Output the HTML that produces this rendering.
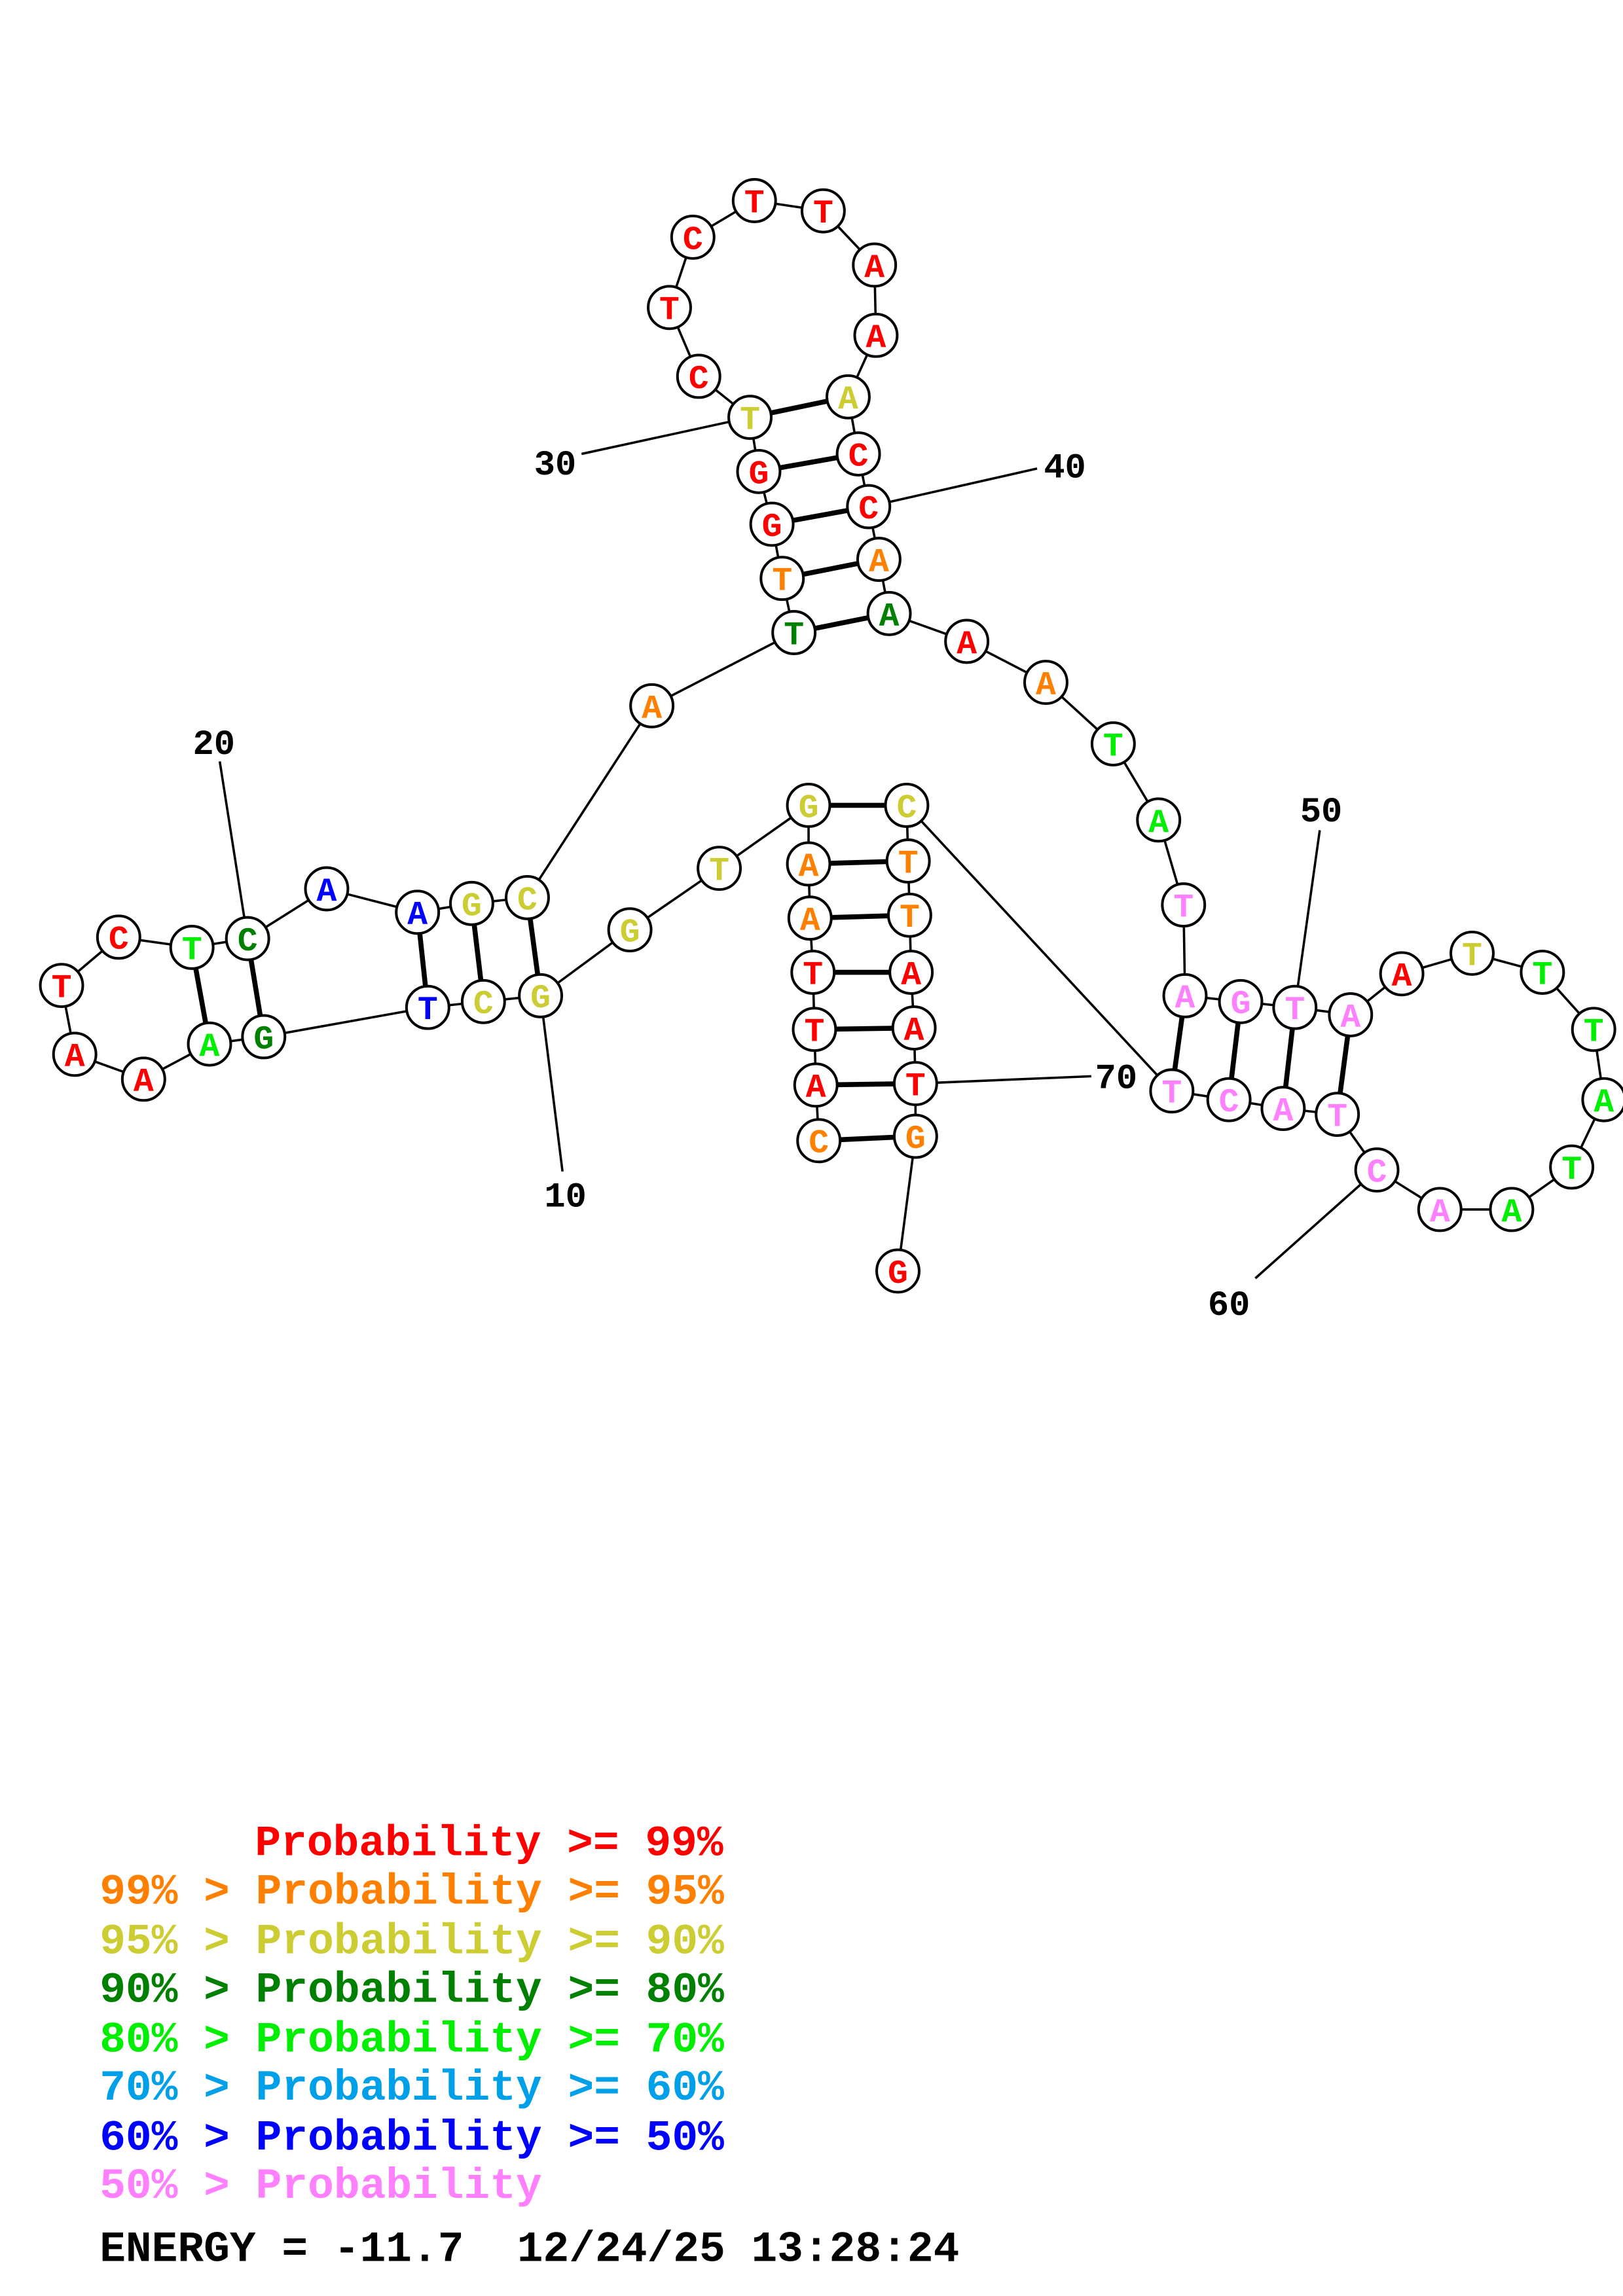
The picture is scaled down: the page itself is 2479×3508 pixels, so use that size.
<!DOCTYPE html>
<html><head><meta charset="utf-8"><style>html,body{margin:0;padding:0;background:#fff}svg{display:block}</style></head><body>
<svg width="2479" height="3508" viewBox="0 0 1108 1568" xmlns="http://www.w3.org/2000/svg">
<rect width="1108" height="1568" fill="#fff"/>
<g stroke="#000" stroke-width="1.6" fill="none">
<polyline points="559,779 557,741 556,703 555,664 553,627 552,590 552,550 491,593 430,635 369,680 330,684 292,688 180,708 143,713 98,737 51,720 42,673 81,640 131,647 169,641 223,607 285,623 322,617 360,613 445,482 542,432 534,395 527,358 518,322 512,285 477,257 457,210 473,162 515,137 562,144 597,181 598,229 579,271 586,310 593,346 600,382 607,419 660,438 714,466 760,508 791,560 808,618 809,680 847,684 884,688 922,693 957,665 1005,651 1053,664 1088,703 1095,751 1073,797 1032,826 983,826 940,799 913,761 876,757 839,751 800,745 619,550 620,588 621,625 622,664 624,702 625,740 625,776 613,868"/>
<line x1="369" y1="680" x2="384" y2="800"/>
<line x1="150" y1="520" x2="169" y2="641"/>
<line x1="397" y1="310" x2="512" y2="285"/>
<line x1="593" y1="346" x2="708" y2="320"/>
<line x1="901" y1="567" x2="884" y2="688"/>
<line x1="940" y1="799" x2="857" y2="873"/>
<line x1="625" y1="740" x2="745" y2="735"/>
</g>
<g stroke="#000" stroke-width="3.4">
<line x1="559" y1="779" x2="625" y2="776"/><line x1="557" y1="741" x2="625" y2="740"/><line x1="556" y1="703" x2="624" y2="702"/><line x1="555" y1="664" x2="622" y2="664"/><line x1="553" y1="627" x2="621" y2="625"/><line x1="552" y1="590" x2="620" y2="588"/><line x1="552" y1="550" x2="619" y2="550"/>
<line x1="369" y1="680" x2="360" y2="613"/><line x1="330" y1="684" x2="322" y2="617"/><line x1="292" y1="688" x2="285" y2="623"/>
<line x1="180" y1="708" x2="169" y2="641"/><line x1="143" y1="713" x2="131" y2="647"/>
<line x1="542" y1="432" x2="607" y2="419"/><line x1="534" y1="395" x2="600" y2="382"/><line x1="527" y1="358" x2="593" y2="346"/><line x1="518" y1="322" x2="586" y2="310"/><line x1="512" y1="285" x2="579" y2="271"/>
<line x1="809" y1="680" x2="800" y2="745"/><line x1="847" y1="684" x2="839" y2="751"/><line x1="884" y1="688" x2="876" y2="757"/><line x1="922" y1="693" x2="913" y2="761"/>
</g>
<g fill="#fff" stroke="#000" stroke-width="1.8">
<circle cx="559" cy="779" r="14.5"/><circle cx="557" cy="741" r="14.5"/><circle cx="556" cy="703" r="14.5"/><circle cx="555" cy="664" r="14.5"/><circle cx="553" cy="627" r="14.5"/><circle cx="552" cy="590" r="14.5"/><circle cx="552" cy="550" r="14.5"/><circle cx="491" cy="593" r="14.5"/><circle cx="430" cy="635" r="14.5"/><circle cx="369" cy="680" r="14.5"/><circle cx="330" cy="684" r="14.5"/><circle cx="292" cy="688" r="14.5"/><circle cx="180" cy="708" r="14.5"/><circle cx="143" cy="713" r="14.5"/><circle cx="98" cy="737" r="14.5"/><circle cx="51" cy="720" r="14.5"/><circle cx="42" cy="673" r="14.5"/><circle cx="81" cy="640" r="14.5"/><circle cx="131" cy="647" r="14.5"/><circle cx="169" cy="641" r="14.5"/><circle cx="223" cy="607" r="14.5"/><circle cx="285" cy="623" r="14.5"/><circle cx="322" cy="617" r="14.5"/><circle cx="360" cy="613" r="14.5"/><circle cx="445" cy="482" r="14.5"/><circle cx="542" cy="432" r="14.5"/><circle cx="534" cy="395" r="14.5"/><circle cx="527" cy="358" r="14.5"/><circle cx="518" cy="322" r="14.5"/><circle cx="512" cy="285" r="14.5"/><circle cx="477" cy="257" r="14.5"/><circle cx="457" cy="210" r="14.5"/><circle cx="473" cy="162" r="14.5"/><circle cx="515" cy="137" r="14.5"/><circle cx="562" cy="144" r="14.5"/><circle cx="597" cy="181" r="14.5"/><circle cx="598" cy="229" r="14.5"/><circle cx="579" cy="271" r="14.5"/><circle cx="586" cy="310" r="14.5"/><circle cx="593" cy="346" r="14.5"/><circle cx="600" cy="382" r="14.5"/><circle cx="607" cy="419" r="14.5"/><circle cx="660" cy="438" r="14.5"/><circle cx="714" cy="466" r="14.5"/><circle cx="760" cy="508" r="14.5"/><circle cx="791" cy="560" r="14.5"/><circle cx="808" cy="618" r="14.5"/><circle cx="809" cy="680" r="14.5"/><circle cx="847" cy="684" r="14.5"/><circle cx="884" cy="688" r="14.5"/><circle cx="922" cy="693" r="14.5"/><circle cx="957" cy="665" r="14.5"/><circle cx="1005" cy="651" r="14.5"/><circle cx="1053" cy="664" r="14.5"/><circle cx="1088" cy="703" r="14.5"/><circle cx="1095" cy="751" r="14.5"/><circle cx="1073" cy="797" r="14.5"/><circle cx="1032" cy="826" r="14.5"/><circle cx="983" cy="826" r="14.5"/><circle cx="940" cy="799" r="14.5"/><circle cx="913" cy="761" r="14.5"/><circle cx="876" cy="757" r="14.5"/><circle cx="839" cy="751" r="14.5"/><circle cx="800" cy="745" r="14.5"/><circle cx="619" cy="550" r="14.5"/><circle cx="620" cy="588" r="14.5"/><circle cx="621" cy="625" r="14.5"/><circle cx="622" cy="664" r="14.5"/><circle cx="624" cy="702" r="14.5"/><circle cx="625" cy="740" r="14.5"/><circle cx="625" cy="776" r="14.5"/><circle cx="613" cy="868" r="14.5"/>
</g>
<g font-family="'Liberation Mono',monospace" font-weight="bold" font-size="23" text-anchor="middle">
<text x="559" y="787" fill="#ff8000">C</text><text x="557" y="749" fill="#ff0000">A</text><text x="556" y="711" fill="#ff0000">T</text><text x="555" y="672" fill="#ff0000">T</text><text x="553" y="635" fill="#ff8000">A</text><text x="552" y="598" fill="#ff8000">A</text><text x="552" y="558" fill="#cccc33">G</text><text x="491" y="601" fill="#cccc33">T</text><text x="430" y="643" fill="#cccc33">G</text><text x="369" y="688" fill="#cccc33">G</text><text x="330" y="692" fill="#cccc33">C</text><text x="292" y="696" fill="#0000ff">T</text><text x="180" y="716" fill="#008000">G</text><text x="143" y="721" fill="#00ee00">A</text><text x="98" y="745" fill="#ff0000">A</text><text x="51" y="728" fill="#ff0000">A</text><text x="42" y="681" fill="#ff0000">T</text><text x="81" y="648" fill="#ff0000">C</text><text x="131" y="655" fill="#00ee00">T</text><text x="169" y="649" fill="#008000">C</text><text x="223" y="615" fill="#0000ff">A</text><text x="285" y="631" fill="#0000ff">A</text><text x="322" y="625" fill="#cccc33">G</text><text x="360" y="621" fill="#cccc33">C</text><text x="445" y="490" fill="#ff8000">A</text><text x="542" y="440" fill="#008000">T</text><text x="534" y="403" fill="#ff8000">T</text><text x="527" y="366" fill="#ff0000">G</text><text x="518" y="330" fill="#ff0000">G</text><text x="512" y="293" fill="#cccc33">T</text><text x="477" y="265" fill="#ff0000">C</text><text x="457" y="218" fill="#ff0000">T</text><text x="473" y="170" fill="#ff0000">C</text><text x="515" y="145" fill="#ff0000">T</text><text x="562" y="152" fill="#ff0000">T</text><text x="597" y="189" fill="#ff0000">A</text><text x="598" y="237" fill="#ff0000">A</text><text x="579" y="279" fill="#cccc33">A</text><text x="586" y="318" fill="#ff0000">C</text><text x="593" y="354" fill="#ff0000">C</text><text x="600" y="390" fill="#ff8000">A</text><text x="607" y="427" fill="#008000">A</text><text x="660" y="446" fill="#ff0000">A</text><text x="714" y="474" fill="#ff8000">A</text><text x="760" y="516" fill="#00ee00">T</text><text x="791" y="568" fill="#00ee00">A</text><text x="808" y="626" fill="#ff80ff">T</text><text x="809" y="688" fill="#ff80ff">A</text><text x="847" y="692" fill="#ff80ff">G</text><text x="884" y="696" fill="#ff80ff">T</text><text x="922" y="701" fill="#ff80ff">A</text><text x="957" y="673" fill="#ff0000">A</text><text x="1005" y="659" fill="#cccc33">T</text><text x="1053" y="672" fill="#00ee00">T</text><text x="1088" y="711" fill="#00ee00">T</text><text x="1095" y="759" fill="#00ee00">A</text><text x="1073" y="805" fill="#00ee00">T</text><text x="1032" y="834" fill="#00ee00">A</text><text x="983" y="834" fill="#ff80ff">A</text><text x="940" y="807" fill="#ff80ff">C</text><text x="913" y="769" fill="#ff80ff">T</text><text x="876" y="765" fill="#ff80ff">A</text><text x="839" y="759" fill="#ff80ff">C</text><text x="800" y="753" fill="#ff80ff">T</text><text x="619" y="558" fill="#cccc33">C</text><text x="620" y="596" fill="#ff8000">T</text><text x="621" y="633" fill="#ff8000">T</text><text x="622" y="672" fill="#ff0000">A</text><text x="624" y="710" fill="#ff0000">A</text><text x="625" y="748" fill="#ff0000">T</text><text x="625" y="784" fill="#ff8000">G</text><text x="613" y="876" fill="#ff0000">G</text>
</g>
<g font-family="'Liberation Mono',monospace" font-weight="bold" font-size="24" text-anchor="middle" fill="#000">
<text x="386" y="824">10</text><text x="146" y="515">20</text><text x="379" y="324">30</text><text x="727" y="326">40</text><text x="902" y="561">50</text><text x="839" y="898">60</text><text x="762" y="743">70</text>
</g>
<g font-family="'Liberation Mono',monospace" font-weight="bold" font-size="29.6">
<text x="174" y="1267" fill="#ff0000">Probability &gt;= 99%</text>
<text x="68" y="1300" fill="#ff8000">99% &gt; Probability &gt;= 95%</text>
<text x="68" y="1334" fill="#cccc33">95% &gt; Probability &gt;= 90%</text>
<text x="68" y="1367" fill="#008000">90% &gt; Probability &gt;= 80%</text>
<text x="68" y="1401" fill="#00ee00">80% &gt; Probability &gt;= 70%</text>
<text x="68" y="1434" fill="#00a0e8">70% &gt; Probability &gt;= 60%</text>
<text x="68" y="1468" fill="#0000ff">60% &gt; Probability &gt;= 50%</text>
<text x="68" y="1501" fill="#ff80ff">50% &gt; Probability</text>
<text x="68" y="1544" fill="#000">ENERGY = -11.7</text>
<text x="353" y="1544" fill="#000">12/24/25 13:28:24</text>
</g>
</svg>
</body></html>
